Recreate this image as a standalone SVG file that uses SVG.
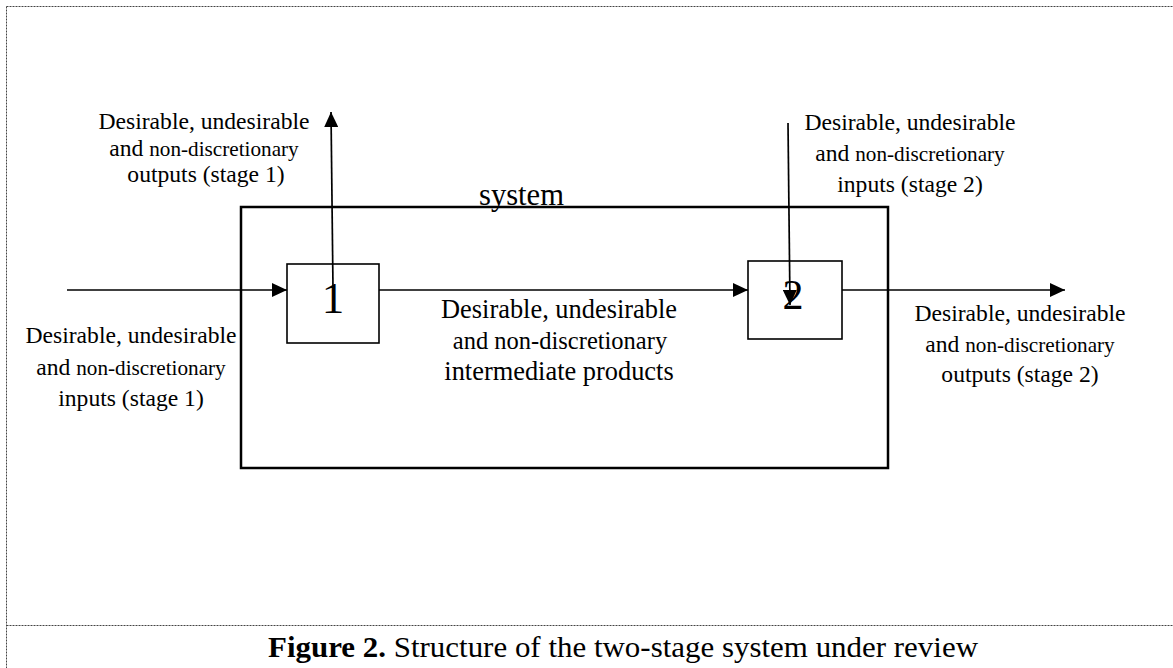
<svg xmlns="http://www.w3.org/2000/svg" width="1173" height="668" viewBox="0 0 1173 668">
<defs>
<style>
.t{font-family:"Liberation Serif","Times New Roman",serif;fill:#000;text-anchor:middle}
.L{font-size:23.6px}
.S{font-size:21.2px}
.M{font-size:26.4px}
.frame{stroke:#444;stroke-width:1;stroke-dasharray:2 1;fill:none}
.box{fill:none;stroke:#000;stroke-width:1.6}
.sys{fill:none;stroke:#000;stroke-width:2.5}
.c{stroke:#000;stroke-width:1.7;fill:none}
</style>
<marker id="ah" viewBox="0 0 15 14" refX="15" refY="7" markerWidth="15" markerHeight="14" markerUnits="userSpaceOnUse" orient="auto">
<path d="M0,0 L15,7 L0,14 Z" fill="#000"/>
</marker>
</defs>
<rect width="1173" height="668" fill="#fff"/>
<g id="frame">
<line class="frame" x1="6.5" y1="6.5" x2="1173" y2="6.5"/>
<line class="frame" x1="6.5" y1="6.5" x2="6.5" y2="668"/>
<line class="frame" x1="6.5" y1="625.5" x2="1173" y2="625.5"/>
</g>
<g id="system">
<rect class="sys" x="241" y="207" width="647" height="261"/>
<text class="t" x="479" y="205" style="font-size:30.6px;text-anchor:start">system</text>
</g>
<g id="node1">
<rect class="box" x="287" y="264" width="92" height="79"/>
<text class="t" x="333" y="313" style="font-size:45px">1</text>
</g>
<g id="node2">
<rect class="box" x="748" y="261" width="94" height="78"/>
<text class="t" x="793" y="309" style="font-size:42px">2</text>
</g>
<g id="connectors">
<line class="c" x1="67" y1="290" x2="287" y2="290" marker-end="url(#ah)"/>
<line class="c" x1="379" y1="290" x2="748" y2="290" marker-end="url(#ah)"/>
<line class="c" x1="842" y1="290" x2="1065" y2="290" marker-end="url(#ah)"/>
<line class="c" x1="333" y1="288" x2="331" y2="112" marker-end="url(#ah)"/>
<line class="c" x1="788" y1="123" x2="790" y2="305" marker-end="url(#ah)"/>
</g>
<g id="label-out1">
<text class="t L" x="204" y="129">Desirable, undesirable</text>
<text class="t" x="204" y="156"><tspan class="L">and </tspan><tspan class="S">non-discretionary</tspan></text>
<text class="t L" x="206" y="182">outputs (stage 1)</text>
</g>
<g id="label-in1">
<text class="t L" x="131" y="343">Desirable, undesirable</text>
<text class="t" x="131" y="375"><tspan class="L">and </tspan><tspan class="S">non-discretionary</tspan></text>
<text class="t L" x="131" y="406">inputs (stage 1)</text>
</g>
<g id="label-mid">
<text class="t M" x="559" y="318">Desirable, undesirable</text>
<text class="t" x="560" y="349" style="font-size:24.5px">and non-discretionary</text>
<text class="t M" x="559" y="380">intermediate products</text>
</g>
<g id="label-in2">
<text class="t L" x="910" y="130">Desirable, undesirable</text>
<text class="t" x="910" y="161"><tspan class="L">and </tspan><tspan class="S">non-discretionary</tspan></text>
<text class="t L" x="910" y="192">inputs (stage 2)</text>
</g>
<g id="label-out2">
<text class="t L" x="1020" y="321">Desirable, undesirable</text>
<text class="t" x="1020" y="352"><tspan class="L">and </tspan><tspan class="S">non-discretionary</tspan></text>
<text class="t L" x="1020" y="382">outputs (stage 2)</text>
</g>
<g id="caption">
<text class="t" x="623" y="657" style="font-size:29px" textLength="710" lengthAdjust="spacingAndGlyphs"><tspan font-weight="bold">Figure 2.</tspan> Structure of the two-stage system under review</text>
</g>
</svg>
